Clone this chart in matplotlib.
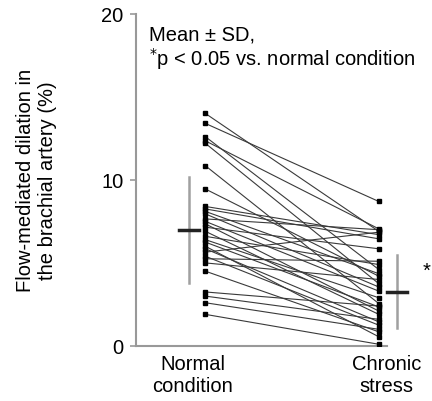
import matplotlib.pyplot as plt
import numpy as np

plt.rcParams['font.family'] = ['Liberation Sans', 'DejaVu Sans']

# --------------------------------------------
# DATA
# --------------------------------------------
groups = ["Normal\ncondition", "Chronic\nstress"]
normal = [14.0, 13.4, 12.6, 12.35, 12.2, 10.85, 9.45, 8.4, 8.25, 8.1, 7.95,
          7.65, 7.5, 7.35, 7.15, 6.9, 6.6, 6.4, 6.25, 6.0, 5.85, 5.65, 5.4,
          5.25, 5.0, 4.5, 3.25, 3.0, 2.6, 1.9]
chronic = [6.9, 8.7, 4.6, 7.05, 3.75, 2.55, 4.2, 6.7, 6.45, 4.35, 3.55,
           7.0, 3.3, 2.1, 5.85, 1.9, 4.9, 2.9, 2.35, 0.55, 1.45, 6.85, 1.25,
           5.1, 4.0, 0.85, 2.4, 1.6, 1.0, 0.1]
group_mean = [7.0, 3.25]
group_sd = [3.2, 2.2]

FS = 14.5

# --------------------------------------------
# PLOT
# --------------------------------------------
fig = plt.figure(figsize=(4.32, 4.02), dpi=100)
ax = fig.add_axes([0.315, 0.137, 0.58, 0.826])

x_pts = [0, 1]
for a, b in zip(normal, chronic):
    ax.plot(x_pts, [a, b], color='#3a3a3a', lw=0.8, zorder=2)
ax.plot(np.zeros(len(normal)), normal, 's', color='black', ms=2.6, zorder=3)
ax.plot(np.ones(len(chronic)), chronic, 's', color='black', ms=2.6, zorder=3)

# mean +- SD bars
bar_x = [-0.095, 1.105]
for bx, m, s in zip(bar_x, group_mean, group_sd):
    ax.plot([bx, bx], [m - s, m + s], color='#a0a0a0', lw=1.8,
            clip_on=False, zorder=1)
    ax.plot([bx - 0.06, bx + 0.06], [m, m], color='#222222', lw=2.5,
            clip_on=False, zorder=2)
ax.text(1.25, group_mean[1] + group_sd[1] - 0.9, '*', fontsize=FS,
        ha='left', va='center', clip_on=False)

ax.set_xlim(-0.40, 1.017)
ax.set_ylim(0, 20)
ax.set_yticks([0, 10, 20])
ax.set_xticks([-0.073, 1.045])
ax.set_xticklabels(groups, fontsize=FS, linespacing=1.15)
ax.tick_params(axis='x', length=0, pad=6)
ax.tick_params(axis='y', length=4, width=1.2, color='#999999',
               labelsize=FS, pad=5)

for side in ['top', 'right']:
    ax.spines[side].set_visible(False)
for side in ['left', 'bottom']:
    ax.spines[side].set_color('#999999')
    ax.spines[side].set_linewidth(1.5)

ax.set_ylabel("Flow-mediated dilation in\nthe brachial artery (%)",
              fontsize=FS, linespacing=1.2, labelpad=32)

ax.text(0.05, 0.968, "Mean ± SD,", transform=ax.transAxes, fontsize=FS,
        ha='left', va='top')
ax.text(0.05, 0.905, r"$^{*}$p < 0.05 vs. normal condition",
        transform=ax.transAxes, fontsize=FS, ha='left', va='top',
        clip_on=False)

plt.savefig("out.png", dpi=100)
plt.close()
